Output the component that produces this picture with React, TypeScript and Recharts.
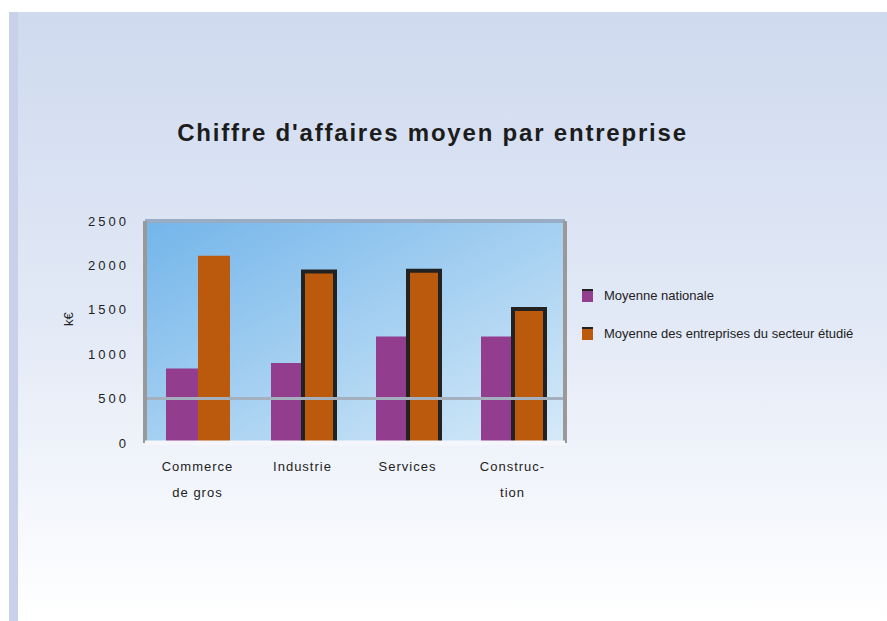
import { Bar, BarChart, CartesianGrid, Cell, ReferenceLine, XAxis, YAxis } from "recharts";

const categories = ["Commerce\nde gros", "Industrie", "Services", "Construc-\ntion"];
const nationalAvg = [840, 900, 1200, 1200];
const sectorAvg = [2110, 1930, 1940, 1510];
const yTicks = [0, 500, 1000, 1500, 2000, 2500];
const seriesNames = ["Moyenne nationale", "Moyenne des entreprises du secteur étudié"];

const PURPLE = "#933d8f";
const ORANGE = "#bb5a0c";
const FONT = "'Liberation Sans', Arial, sans-serif";

const data = categories.map((c, i) => ({ cat: c, national: nationalAvg[i], sector: sectorAvg[i] }));

function CatTick({ x, y, payload }: any) {
  const lines = String(payload.value).split("\n");
  return (
    <text x={x} y={y + 20} textAnchor="middle" fontSize={13} letterSpacing={1} fill="#222" fontFamily={FONT}>
      {lines.map((l, i) => (
        <tspan key={i} x={x} dy={i === 0 ? 0 : 26}>
          {l}
        </tspan>
      ))}
    </text>
  );
}

function LegendBox() {
  const colors = [PURPLE, ORANGE];
  return (
    <div style={{ position: "absolute", left: 582, top: 285, fontFamily: FONT, fontSize: 13, color: "#222" }}>
      {seriesNames.map((n, i) => (
        <div key={n} style={{ display: "flex", alignItems: "center", height: 20, marginBottom: 18, whiteSpace: "nowrap" }}>
          <span style={{ display: "inline-block", width: 11, height: 11, background: colors[i], borderTop: "2px solid #222", marginRight: 11 }} />
          {n}
        </div>
      ))}
    </div>
  );
}

export default function App() {
  return (
    <div style={{ position: "absolute", left: 0, top: 0, width: 887, height: 621, background: "#fff", overflow: "hidden" }}>
      <div
        style={{
          position: "absolute",
          left: 9,
          top: 12,
          width: 878,
          height: 609,
          background: "linear-gradient(180deg, #cfdaef 0%, #e2e9f6 50%, #ffffff 100%)",
          borderLeft: "9px solid #c9d1ea",
          boxSizing: "border-box",
        }}
      />
      <div
        style={{
          position: "absolute",
          left: 0,
          top: 119,
          width: 865,
          textAlign: "center",
          fontFamily: FONT,
          fontWeight: "bold",
          fontSize: 24,
          letterSpacing: 1.8,
          color: "#1c1c1c",
        }}
      >
        Chiffre d'affaires moyen par entreprise
      </div>
      <div style={{ position: "absolute", left: 0, top: 0 }}>
        <BarChart
          width={887}
          height={621}
          data={data}
          margin={{ top: 221, right: 321, bottom: 148, left: 60 }}
          barCategoryGap="20%"
          barGap={0}
        >
          <defs>
            <linearGradient id="plotBg" x1="0" y1="0" x2="1" y2="1">
              <stop offset="0%" stopColor="#73b5ea" />
              <stop offset="100%" stopColor="#d6eaf8" />
            </linearGradient>
          </defs>
          <CartesianGrid horizontal={false} vertical={false} fill="url(#plotBg)" />
          <YAxis
            domain={[0, 2500]}
            ticks={yTicks}
            width={85}
            tickLine={false}
            tickMargin={10}
            axisLine={{ stroke: "#999", strokeWidth: 4 }}
            tick={{ fontSize: 13, fill: "#222", fontFamily: FONT, letterSpacing: 3 }}
            label={{ value: "k€", angle: -90, position: "insideLeft", offset: 8, dy: -6, fontSize: 13, fill: "#222", fontFamily: FONT }}
          />
          <YAxis yAxisId="r" orientation="right" domain={[0, 2500]} width={1} tick={false} tickLine={false} axisLine={{ stroke: "#999", strokeWidth: 4 }} />
          <ReferenceLine y={500} stroke="#a5b0bf" strokeWidth={3} />
          <ReferenceLine y={2500} stroke="#98adc4" strokeWidth={4} />
          <Bar dataKey="national" name={seriesNames[0]} fill={PURPLE} isAnimationActive={false} />
          <Bar dataKey="sector" name={seriesNames[1]} fill={ORANGE} isAnimationActive={false}>
            {sectorAvg.map((_, i) => (
              <Cell key={i} stroke={i === 0 ? "none" : "#222"} strokeWidth={i === 0 ? 0 : 4} />
            ))}
          </Bar>
          <XAxis dataKey="cat" tick={<CatTick />} tickLine={false} axisLine={{ stroke: "#f4f6fb", strokeWidth: 5 }} interval={0} />
        </BarChart>
      </div>
      <LegendBox />
    </div>
  );
}
